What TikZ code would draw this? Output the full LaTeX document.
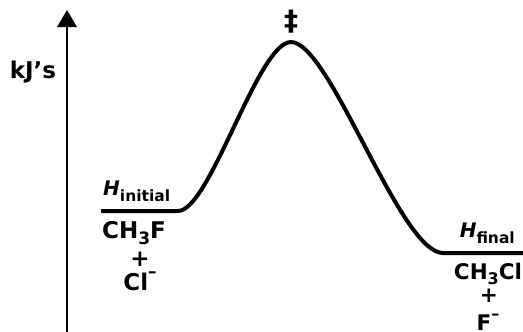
\documentclass[tikz,border=0pt]{standalone}
\usepackage{fontspec}
\setmainfont{DejaVu Sans}
\newcommand{\lowsub}[1]{\raisebox{-0.28em}{\fontsize{17}{17}\selectfont #1}}
\newcommand{\rsub}[1]{\raisebox{-0.26em}{\fontsize{16}{16}\selectfont #1}}
\newcommand{\hsub}[1]{\raisebox{-0.3em}{\fontsize{15.5}{15.5}\selectfont #1}}
\newcommand{\hisup}[1]{\raisebox{0.55em}{\fontsize{17}{17}\selectfont #1}}
\newcommand{\rsup}[1]{\raisebox{0.48em}{\fontsize{16}{16}\selectfont #1}}
\begin{document}
\begin{tikzpicture}[x=1pt,y=-1pt,
  lbl/.style={font=\fontsize{23}{26}\selectfont\bfseries, inner sep=0pt, align=center},
  rlbl/.style={font=\fontsize{21.5}{24}\selectfont\bfseries, inner sep=0pt, align=center},
  hlbl/.style={font=\fontsize{20}{22}\selectfont\bfseries, inner sep=0pt},
  curveline/.style={line width=4pt},
  axisline/.style={line width=2.4pt}]
\useasboundingbox (0,0) rectangle (523,332);
\coordinate (axbot) at (67,332);
\coordinate (axtop) at (67,26);
\draw[axisline] (axbot) -- (axtop);
\fill (67,10) -- (57,27) -- (77,27) -- cycle;
\node[lbl] (kj) at (33,72) {kJ\char"27 s};
\coordinate (a) at (101,211);
\coordinate (b) at (178,211);
\coordinate (p) at (291,42);
\coordinate (c) at (443,253);
\coordinate (d) at (523,253);
\draw[curveline] (a) -- (b) .. controls (210,211) and (258,42) .. (p)
  .. controls (330,42) and (400,253) .. (c) -- (d);
\node[lbl, font=\fontsize{28}{30}\selectfont\bfseries] (dag) at (291,22) {‡};
\node[hlbl, anchor=base west] (hi) at (103,195) {\itshape H\upshape\hsub{initial}};
\node[lbl] (ch3f) at (134,233) {CH\lowsub{3}F};
\node[lbl] (plus1) at (140,259) {+};
\node[lbl] (cl) at (140,281) {Cl\hisup{–}};
\node[hlbl, anchor=base east] (hf) at (515,237) {\itshape H\upshape\hsub{final}};
\node[rlbl] (ch3cl) at (488,274) {CH\rsub{3}Cl};
\node[rlbl] (plus2) at (489,296) {+};
\node[rlbl, anchor=base] (f) at (488,330) {F\rsup{–}};
\end{tikzpicture}
\end{document}
